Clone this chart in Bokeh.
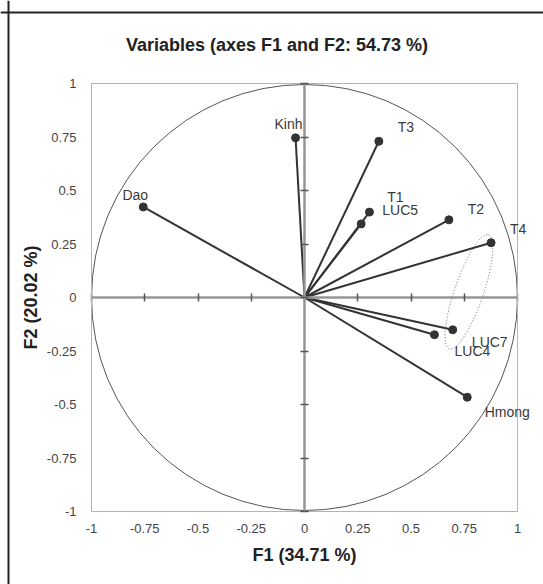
from bokeh.plotting import figure
from bokeh.models import (ColumnDataSource, FixedTicker, LinearAxis, CustomJSTickFormatter,
                          LabelSet, Label, Span)
from bokeh.core.properties import value
from bokeh.embed import file_html
from bokeh.resources import INLINE

# ---- data ----
variables = ["Kinh", "Dao", "T3", "T1", "LUC5", "T2", "T4", "LUC7", "LUC4", "Hmong"]
f1 = [-0.042, -0.757, 0.349, 0.305, 0.266, 0.678, 0.876, 0.696, 0.610, 0.764]
f2 = [0.746, 0.423, 0.730, 0.399, 0.344, 0.363, 0.256, -0.151, -0.174, -0.466]
tick_values = [-1, -0.75, -0.5, -0.25, 0, 0.25, 0.5, 0.75, 1]
tick_labels = ["-1", "-0.75", "-0.5", "-0.25", "0", "0.25", "0.5", "0.75", "1"]
title_text = "Variables (axes F1 and F2: 54.73 %)"
x_title = "F1 (34.71 %)"
y_title = "F2 (20.02 %)"

# label placement (screen px offsets from the point: right, down)
label_offsets = {
    "Kinh": (-7, -14), "Dao": (-8, -12), "T3": (27, -14), "T1": (26, -15),
    "LUC5": (39, -14), "T2": (27, -11), "T4": (27, -14), "LUC7": (37, 12),
    "LUC4": (38, 16), "Hmong": (40, 15),
}

# dotted ellipse grouping T4, LUC7, LUC4
ell_cx, ell_cy, ell_w, ell_h, ell_angle = 0.772, 0.026, 0.567, 0.135, 1.24

# ---- layout: the frame covers the whole canvas; the [-1, 1] box sits inside it ----
W, H = 543, 584
BOX_L, BOX_R, BOX_T, BOX_B = 91, 517, 83, 511      # pixel edges of the [-1,1] box
sx = (BOX_R - BOX_L) / 2.0
sy = (BOX_B - BOX_T) / 2.0
x_start, x_end = -1 - BOX_L / sx, 1 + (W - BOX_R) / sx
y_start, y_end = -1 - (H - BOX_B) / sy, 1 + BOX_T / sy
border_x = -1 - (BOX_L - 8) / sx     # outer border, left edge
border_y = 1 + (BOX_T - 12) / sy     # outer border, top edge
title_x = -1 + (276.5 - BOX_L) / sx
title_y = 1 + (BOX_T - 44) / sy

FONT = "Liberation Sans"
DARK = "#333333"
BOXC = "#b4b4b4"
AXC = "#969696"

src = ColumnDataSource(dict(
    name=variables, x=f1, y=f2,
    x0=[0] * len(f1), y0=[0] * len(f2),
    dx=[label_offsets[n][0] for n in variables],
    dy=[-label_offsets[n][1] for n in variables],
))

p = figure(width=W, height=H, x_range=(x_start, x_end), y_range=(y_start, y_end),
           output_backend="svg", toolbar_location=None,
           x_axis_location=None, y_axis_location=None,
           min_border=0, min_border_left=0, min_border_right=0,
           min_border_top=0, min_border_bottom=0)
p.background_fill_color = "white"
p.border_fill_color = "white"
p.outline_line_color = None
p.grid.visible = False

overrides = {v: l for v, l in zip(tick_values, tick_labels)}
empty = CustomJSTickFormatter(code="return ''")


def box_axis(loc, side, labelled):
    ax = LinearAxis(fixed_location=loc, bounds=(-1, 1), ticker=FixedTicker(ticks=tick_values),
                    axis_line_color=BOXC, axis_line_width=1,
                    major_tick_line_color=None, minor_tick_line_color=None,
                    major_tick_in=0, major_tick_out=0)
    if labelled:
        ax.major_label_overrides = overrides
        ax.major_label_text_font = FONT
        ax.major_label_text_font_size = "13px"
        ax.major_label_text_color = "#444444"
        ax.axis_label_text_font = FONT
        ax.axis_label_text_font_size = "18px"
        ax.axis_label_text_font_style = "bold"
        ax.axis_label_text_color = "#222222"
    else:
        ax.formatter = empty
    p.add_layout(ax, side)
    return ax


xa = box_axis(-1, "below", True)
xa.axis_label = x_title
xa.major_label_standoff = 12
xa.axis_label_standoff = 9
ya = box_axis(-1, "left", True)
ya.axis_label = y_title
ya.major_label_standoff = 15
ya.axis_label_standoff = 3
box_axis(1, "above", False)
box_axis(1, "right", False)

# central axes through the origin
for side in ("below", "left"):
    ax = LinearAxis(fixed_location=0, bounds=(-1, 1), ticker=FixedTicker(ticks=tick_values),
                    formatter=CustomJSTickFormatter(code="return ''"),
                    axis_line_color=AXC, axis_line_width=2.5,
                    major_tick_in=4, major_tick_out=4,
                    major_tick_line_color="#555555", major_tick_line_width=1.5,
                    minor_tick_line_color=None)
    p.add_layout(ax, side)

# outer border (top and left edges of the figure box)
p.add_layout(Span(location=border_y, dimension="width", line_color="#222222", line_width=2))
p.add_layout(Span(location=border_x, dimension="height", line_color="#222222", line_width=2))

# correlation circle
p.circle(x=0, y=0, radius=1, fill_color=None, line_color="#555555", line_width=1)

# dotted ellipse
p.ellipse(x=ell_cx, y=ell_cy, width=ell_w, height=ell_h, angle=ell_angle,
          fill_color=None, line_color="#666666", line_dash="1 2", line_width=1)

p.segment(x0="x0", y0="y0", x1="x", y1="y", source=src, line_color=DARK, line_width=2)
p.scatter(x="x", y="y", source=src, size=8, fill_color=DARK, line_color=DARK)

labels = LabelSet(x="x", y="y", text="name", source=src, x_offset="dx", y_offset="dy",
                  text_align="center", text_baseline="middle", text_font=value(FONT),
                  text_font_size="14px", text_color="#3a3a3a")
p.add_layout(labels)

title = Label(x=title_x, y=title_y, text=title_text, text_align="center",
              text_baseline="middle", text_font=FONT, text_font_size="18px",
              text_font_style="bold", text_color="#222222")
p.add_layout(title)

open("out.html", "w").write(file_html(p, INLINE))
